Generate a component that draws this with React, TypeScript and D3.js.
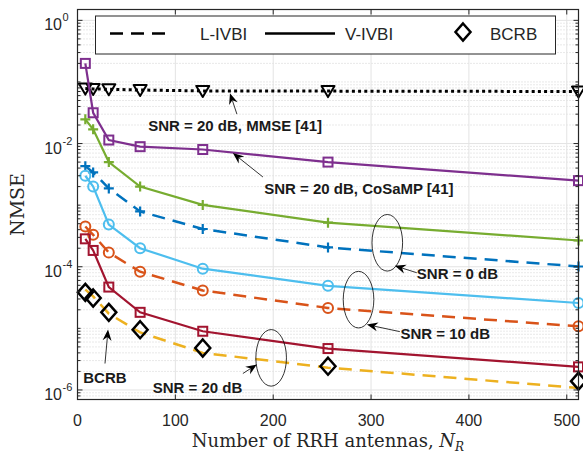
import * as d3 from "d3";
import React from "react";

// antennas N_R and NMSE
const antennas = [8, 16, 32, 64, 128, 256, 512];
const mmse20 = [0.078, 0.077, 0.076, 0.074, 0.0715, 0.071, 0.07];
const cosamp20 = [0.2, 0.0316, 0.0114, 0.0089, 0.008, 0.005, 0.0025];
const vivbi0 = [0.0247, 0.017, 0.005, 0.002, 0.00101, 0.00052, 0.000267];
const livbi0 = [0.0043, 0.0034, 0.00187, 0.00079, 0.00041, 0.000206, 0.000101];
const vivbi10 = [0.003, 0.002, 0.000484, 0.0002, 0.000093, 0.000049, 0.0000258];
const livbi10 = [0.00045, 0.00033, 0.00017, 0.0000831, 0.0000413, 0.0000214, 0.0000108];
const vivbi20 = [0.000284, 0.000184, 0.0000468, 0.0000182, 0.00000897, 0.0000047, 0.00000237];
const livbi20 = [0.0000425, 0.0000331, 0.0000173, 0.0000086, 0.000004, 0.0000023, 0.00000108];
const bcrb = [0.0000384, 0.0000311, 0.0000182, 0.0000095, 0.0000048, 0.00000243, 0.00000139];

const xTicks = [0, 100, 200, 300, 400, 500];
const yTickExps = [0, -2, -4, -6];
const legendLabels = ["L-IVBI", "V-IVBI", "BCRB"];

// annotations in data units: [x, log10(y)]
const arrows = [
  { from: [162.9, -1.522], to: [155.8, -1.182] },
  { from: [189.5, -2.543], to: [158.8, -2.154] },
  { from: [346.7, -4.097], to: [324.3, -3.984] },
  { from: [329.4, -5.053], to: [295.7, -4.939] },
  { from: [169.0, -5.733], to: [183.3, -5.587] },
  { from: [28.1, -5.571], to: [31.2, -5.02] },
];
const ellipses = [
  [316.6, -3.611],
  [287.2, -4.534],
  [197.9, -5.479],
];
const notes = [
  { text: "SNR = 20 dB, MMSE [41]", at: [72.3, -1.789] },
  { text: "SNR = 20 dB, CoSaMP [41]", at: [190.8, -2.818] },
  { text: "SNR = 0 dB", at: [346.8, -4.202] },
  { text: "SNR = 10 dB", at: [330.1, -5.166] },
  { text: "SNR = 20 dB", at: [76.8, -6.057] },
  { text: "BCRB", at: [5.9, -5.879] },
];

const series = [
  { values: mmse20, color: "#000000", dash: "3,3.2", marker: "tri", width: 3 },
  { values: cosamp20, color: "#7E2F8E", dash: null, marker: "square", width: 2.2 },
  { values: vivbi0, color: "#77AC30", dash: null, marker: "plus", width: 2.2 },
  { values: livbi0, color: "#0072BD", dash: "13,8", marker: "plus", width: 2.5 },
  { values: vivbi10, color: "#4DBEEE", dash: null, marker: "circle", width: 2.2 },
  { values: livbi10, color: "#D95319", dash: "13,8", marker: "circle", width: 2.5 },
  { values: vivbi20, color: "#A2142F", dash: null, marker: "square", width: 2.2 },
  { values: livbi20, color: "#EDB120", dash: "13,8", marker: null, width: 2.5 },
];

const W = 583;
const H = 453;
const AX = "#262626";

const x = d3.scaleLinear().domain([0, 512]).range([77.5, 578.5]);
const y = d3.scaleLog().domain([7e-7, 1.5]).range([399.5, 9.5]);

function Marker({ kind, cx, cy, color }: { kind: string; cx: number; cy: number; color: string }) {
  if (kind === "square")
    return <rect x={cx - 4.5} y={cy - 4.5} width={9} height={9} fill="none" stroke={color} strokeWidth={2} />;
  if (kind === "circle") return <circle cx={cx} cy={cy} r={5} fill="none" stroke={color} strokeWidth={2} />;
  if (kind === "plus")
    return <path d={`M${cx - 5},${cy}H${cx + 5}M${cx},${cy - 5}V${cy + 5}`} stroke={color} strokeWidth={2.2} />;
  if (kind === "tri")
    return (
      <path
        d={`M${cx - 6.5},${cy - 5}L${cx + 6.5},${cy - 5}L${cx},${cy + 6}Z`}
        fill="none"
        stroke={color}
        strokeWidth={2}
        strokeLinejoin="round"
      />
    );
  if (kind === "diamond")
    return (
      <path
        d={`M${cx},${cy - 8.5}L${cx + 7.5},${cy}L${cx},${cy + 8.5}L${cx - 7.5},${cy}Z`}
        fill="none"
        stroke={color}
        strokeWidth={2.5}
      />
    );
  return null;
}

function Arrow({ x1, y1, x2, y2 }: { x1: number; y1: number; x2: number; y2: number }) {
  const a = Math.atan2(y2 - y1, x2 - x1);
  const L = 11, w = 4.5, n = 7.5;
  const ux = Math.cos(a), uy = Math.sin(a);
  const bx = x2 - ux * L, by = y2 - uy * L;
  const p1 = [bx - uy * w, by + ux * w];
  const p2 = [bx + uy * w, by - ux * w];
  const nx = x2 - ux * n, ny = y2 - uy * n;
  return (
    <g>
      <line x1={x1} y1={y1} x2={nx} y2={ny} stroke="#000" strokeWidth={0.8} />
      <path d={`M${x2},${y2}L${p1[0]},${p1[1]}L${nx},${ny}L${p2[0]},${p2[1]}Z`} fill="#000" />
    </g>
  );
}

export default function App() {
  const [xl, xr] = x.range();
  const [yb, yt] = y.range();
  const line = d3
    .line<number>()
    .x((_, i) => x(antennas[i]))
    .y((v) => y(v));

  const minor: number[] = [];
  for (let k = -7; k <= 0; k++) {
    for (let m = 1; m <= 9; m++) {
      const v = m * Math.pow(10, k);
      if (v < 7e-7 || v > 1.5) continue;
      if (m === 1 && k % 2 === 0) continue;
      minor.push(v);
    }
  }
  const major = yTickExps.map((e) => Math.pow(10, e));

  return (
    <svg width={W} height={H} style={{ position: "absolute", left: 0, top: 0, background: "#fff" }}>
      <rect x={0} y={0} width={W} height={H} fill="#fff" />
      {/* grid */}
      {minor.map((v, i) => (
        <line key={"mg" + i} x1={xl} x2={xr} y1={y(v)} y2={y(v)} stroke="#c8c8c8" strokeWidth={0.8} strokeDasharray="1,2" />
      ))}
      {xTicks.slice(1).map((t) => (
        <line key={"gx" + t} x1={x(t)} x2={x(t)} y1={yt} y2={yb} stroke="#e3e3e3" strokeWidth={1} />
      ))}
      {major.map((v, i) => (
        <line key={"gy" + i} x1={xl} x2={xr} y1={y(v)} y2={y(v)} stroke="#e3e3e3" strokeWidth={1} />
      ))}

      {/* series */}
      {series.map((s, si) => (
        <g key={"s" + si}>
          <path
            d={line(s.values) || ""}
            fill="none"
            stroke={s.color}
            strokeWidth={s.width}
            strokeDasharray={s.dash || undefined}
            strokeLinecap={s.marker === "tri" ? "butt" : "butt"}
          />
          {s.marker &&
            s.values.map((v, i) => (
              <Marker key={i} kind={s.marker as string} cx={x(antennas[i])} cy={y(v)} color={s.color} />
            ))}
        </g>
      ))}
      {bcrb.map((v, i) => (
        <Marker key={"b" + i} kind="diamond" cx={x(antennas[i])} cy={y(v)} color="#000" />
      ))}

      {/* annotations */}
      {ellipses.map((e, i) => (
        <ellipse key={"e" + i} cx={x(e[0])} cy={y(Math.pow(10, e[1]))} rx={15.3} ry={28.3} fill="none" stroke="#000" strokeWidth={0.8} />
      ))}
      {arrows.map((a, i) => (
        <Arrow
          key={"a" + i}
          x1={x(a.from[0])}
          y1={y(Math.pow(10, a.from[1]))}
          x2={x(a.to[0])}
          y2={y(Math.pow(10, a.to[1]))}
        />
      ))}
      {notes.map((n, i) => (
        <text
          key={"n" + i}
          x={x(n.at[0])}
          y={y(Math.pow(10, n.at[1]))}
          fontFamily="'Liberation Sans', Arial, sans-serif"
          fontWeight="bold"
          fontSize={15}
          fill="#1a1a1a"
        >
          {n.text}
        </text>
      ))}

      {/* axes box */}
      <rect x={xl} y={yt} width={xr - xl} height={yb - yt} fill="none" stroke={AX} strokeWidth={1.2} />
      {xTicks.slice(1).map((t) => (
        <g key={"xt" + t}>
          <line x1={x(t)} x2={x(t)} y1={yb} y2={yb - 5} stroke={AX} />
          <line x1={x(t)} x2={x(t)} y1={yt} y2={yt + 5} stroke={AX} />
        </g>
      ))}
      {minor.map((v, i) => (
        <g key={"mt" + i}>
          <line x1={xl} x2={xl + 3} y1={y(v)} y2={y(v)} stroke={AX} />
          <line x1={xr} x2={xr - 3} y1={y(v)} y2={y(v)} stroke={AX} />
        </g>
      ))}
      {major.map((v, i) => (
        <g key={"Mt" + i}>
          <line x1={xl} x2={xl + 5} y1={y(v)} y2={y(v)} stroke={AX} />
          <line x1={xr} x2={xr - 5} y1={y(v)} y2={y(v)} stroke={AX} />
        </g>
      ))}
      {xTicks.map((t) => (
        <text
          key={"xl" + t}
          x={x(t)}
          y={426}
          textAnchor="middle"
          fontFamily="'Liberation Sans', Arial, sans-serif"
          fontSize={16}
          fill={AX}
        >
          {t}
        </text>
      ))}
      {yTickExps.map((e) => {
        const ty = y(Math.pow(10, e));
        return (
          <g key={"yl" + e} fontFamily="'Liberation Sans', Arial, sans-serif" fill={AX}>
            <text x={62} y={ty + 10} textAnchor="end" fontSize={16}>
              10
            </text>
            <text x={62.5} y={ty + 1} fontSize={11}>
              {e === 0 ? "0" : "-" + Math.abs(e)}
            </text>
          </g>
        );
      })}

      {/* axis labels */}
      <text
        x={(xl + xr) / 2}
        y={447}
        textAnchor="middle"
        fontFamily="'DejaVu Serif', serif"
        fontSize={18}
        fill={AX}
      >
        Number of RRH antennas,{" "}
        <tspan fontStyle="italic">N</tspan>
        <tspan fontStyle="italic" fontSize={12} dy={4}>
          R
        </tspan>
      </text>
      <text
        transform={`translate(24,${(yt + yb) / 2}) rotate(-90)`}
        textAnchor="middle"
        fontFamily="'DejaVu Serif', serif"
        fontSize={19}
        fill={AX}
      >
        NMSE
      </text>

      {/* legend */}
      <rect x={95.5} y={16} width={460} height={38} fill="#fff" stroke={AX} strokeWidth={1} />
      <line x1={110} x2={170} y1={33.5} y2={33.5} stroke="#000" strokeWidth={2.5} strokeDasharray="13,8" />
      <line x1={265} x2={335} y1={33.5} y2={33.5} stroke="#000" strokeWidth={2.5} />
      <Marker kind="diamond" cx={463} cy={32} color="#000" />
      {legendLabels.map((l, i) => (
        <text
          key={l}
          x={[200, 345, 490][i]}
          y={39.5}
          fontFamily="'Liberation Sans', Arial, sans-serif"
          fontSize={17}
          fill={AX}
        >
          {l}
        </text>
      ))}
    </svg>
  );
}
